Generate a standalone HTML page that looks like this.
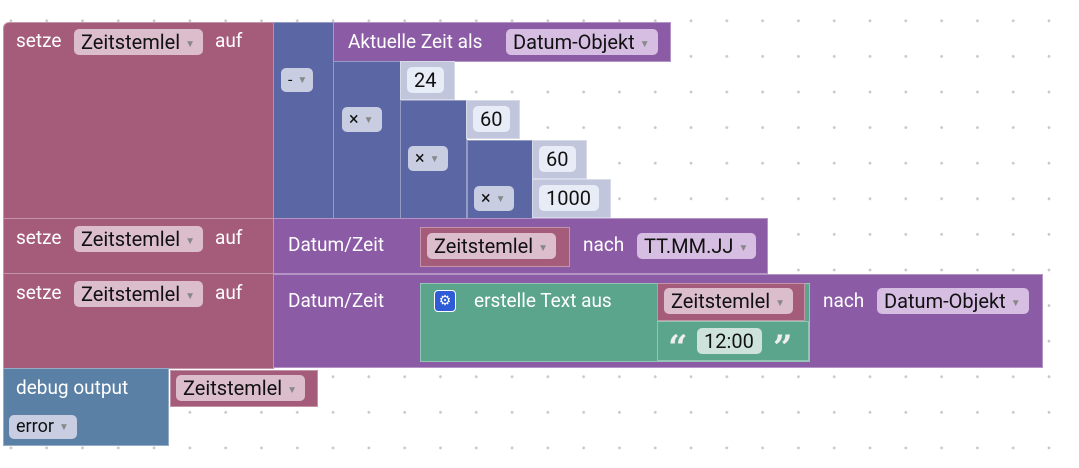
<!DOCTYPE html>
<html><head><meta charset="utf-8"><style>
body{margin:0;width:1079px;height:468px;overflow:hidden;background:#fff;position:relative;font-family:"Roboto","Liberation Sans",sans-serif;}
.bg{position:absolute;left:0;top:0;width:1079px;height:468px;background-image:radial-gradient(circle,#c8c8c8 1.2px,transparent 1.6px);background-size:35.8px 35.6px;background-position:-7px 3px;}
.b{position:absolute;box-sizing:border-box;border:1px solid rgba(255,255,255,.35);}
.r{background:#a55b7a;}.u{background:#5b67a5;}.p{background:#8c5ba5;}.n{background:#c2c6dd;}.g{background:#5ba58c;}.d{background:#5b80a5;}
.t{position:absolute;color:#fff;font-size:19px;line-height:22px;white-space:nowrap;}
.f{position:absolute;border-radius:5px;font-size:20px;line-height:26px;height:26px;color:#111;padding:0 8px 0 7px;white-space:nowrap;box-sizing:border-box;}
.fr{background:#dbbdcb}.fu{background:#c8cde2}.fp{background:#d6bde2}.fw{background:#e8ecf6}.fg{background:#cde2da}
.ar{font-size:10px;color:#888;margin-left:5px;vertical-align:2px}
.q{position:absolute;color:#eee;font-size:34px;font-weight:bold;line-height:30px;font-family:"DejaVu Serif",serif}
</style></head><body>
<div class="bg"></div>
<!-- row 1 -->
<div class="b r" style="left:3px;top:22px;width:271px;height:197px;border-radius:6px 0 0 0"></div>
<div class="t" style="left:16px;top:30px">setze</div>
<div class="f fr" style="left:74px;top:29px">Zeitstemlel<span class="ar">▼</span></div>
<div class="t" style="left:215px;top:30px">auf</div>
<div class="b u" style="left:273px;top:22px;width:61px;height:197px"></div>
<div class="f fu" style="left:281px;top:68px;height:24px;line-height:24px;font-size:16px;width:32px">-<span class="ar">▼</span></div>
<div class="b p" style="left:333px;top:22px;width:338px;height:40px"></div>
<div class="t" style="left:348px;top:31px">Aktuelle Zeit als</div>
<div class="f fp" style="left:506px;top:29px">Datum-Objekt<span class="ar">▼</span></div>
<div class="b u" style="left:333px;top:61px;width:68px;height:158px"></div>
<div class="f fu" style="left:342px;top:107px;height:25px;line-height:25px;font-size:18px">×<span class="ar">▼</span></div>
<div class="b n" style="left:400px;top:61px;width:55px;height:39px"></div>
<div class="f fw" style="left:407px;top:67px">24</div>
<div class="b u" style="left:400px;top:100px;width:67px;height:119px"></div>
<div class="f fu" style="left:408px;top:146px;height:25px;line-height:25px;font-size:18px">×<span class="ar">▼</span></div>
<div class="b n" style="left:466px;top:100px;width:54px;height:39px"></div>
<div class="f fw" style="left:473px;top:106px">60</div>
<div class="b u" style="left:467px;top:140px;width:66px;height:79px"></div>
<div class="f fu" style="left:474px;top:186px;height:25px;line-height:25px;font-size:18px">×<span class="ar">▼</span></div>
<div class="b n" style="left:532px;top:140px;width:55px;height:39px"></div>
<div class="f fw" style="left:539px;top:146px">60</div>
<div class="b n" style="left:532px;top:179px;width:79px;height:39px"></div>
<div class="f fw" style="left:539px;top:185px">1000</div>
<!-- row 2 -->
<div class="b r" style="left:3px;top:218px;width:271px;height:56px"></div>
<div class="t" style="left:16px;top:227px">setze</div>
<div class="f fr" style="left:74px;top:226px">Zeitstemlel<span class="ar">▼</span></div>
<div class="t" style="left:215px;top:227px">auf</div>
<div class="b p" style="left:273px;top:218px;width:495px;height:56px"></div>
<div class="t" style="left:288px;top:234px">Datum/Zeit</div>
<div class="b r" style="left:420px;top:227px;width:150px;height:40px"></div>
<div class="f fr" style="left:427px;top:233px">Zeitstemlel<span class="ar">▼</span></div>
<div class="t" style="left:583px;top:234px">nach</div>
<div class="f fp" style="left:637px;top:233px">TT.MM.JJ<span class="ar">▼</span></div>
<!-- row 3 -->
<div class="b r" style="left:3px;top:273px;width:271px;height:96px"></div>
<div class="t" style="left:16px;top:282px">setze</div>
<div class="f fr" style="left:74px;top:281px">Zeitstemlel<span class="ar">▼</span></div>
<div class="t" style="left:215px;top:282px">auf</div>
<div class="b p" style="left:273px;top:274px;width:770px;height:94px"></div>
<div class="t" style="left:288px;top:290px">Datum/Zeit</div>
<div class="b g" style="left:420px;top:283px;width:390px;height:79px"></div>
<div style="position:absolute;left:434px;top:290px;width:22px;height:22px;border-radius:4px;background:#2e5bd6;border:1px solid #fff;box-sizing:border-box;color:#fff;font-size:14px;line-height:20px;text-align:center">⚙</div>
<div class="t" style="left:474px;top:290px">erstelle Text aus</div>
<div class="b r" style="left:657px;top:283px;width:148px;height:38px"></div>
<div class="f fr" style="left:664px;top:288px">Zeitstemlel<span class="ar">▼</span></div>
<div class="b g" style="left:657px;top:321px;width:152px;height:40px"></div>
<div class="q" style="left:668px;top:333px">“</div>
<div class="f fg" style="left:697px;top:328px">12:00</div>
<div class="q" style="left:773px;top:333px">”</div>
<div class="t" style="left:823px;top:290px">nach</div>
<div class="f fp" style="left:877px;top:288px">Datum-Objekt<span class="ar">▼</span></div>
<!-- debug -->
<div class="b d" style="left:3px;top:368px;width:166px;height:78px"></div>
<div class="t" style="left:16px;top:377px">debug output</div>
<div class="b r" style="left:170px;top:370px;width:148px;height:37px"></div>
<div class="f fr" style="left:176px;top:375px">Zeitstemlel<span class="ar">▼</span></div>
<div class="f fu" style="left:9px;top:415px;height:24px;line-height:24px;font-size:18px">error<span class="ar">▼</span></div>
</body></html>
